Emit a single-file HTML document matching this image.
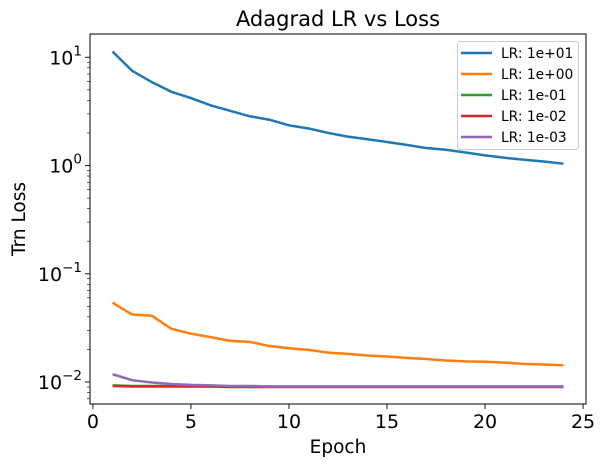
<!DOCTYPE html>
<html><head><meta charset="utf-8"><style>
body{margin:0;background:#fff;}
svg{display:block;font-family:"DejaVu Sans","Liberation Sans",sans-serif;}
</style></head><body>
<svg id="chart" width="605" height="467" viewBox="0 0 605 467"></svg>
<script>
const epochs=[1,2,3,4,5,6,7,8,9,10,11,12,13,14,15,16,17,18,19,20,21,22,23,24];
const lr1e1=[11.3,7.5,5.9,4.8,4.2,3.6,3.2,2.85,2.65,2.35,2.2,2.0,1.85,1.75,1.65,1.55,1.45,1.4,1.32,1.24,1.18,1.13,1.09,1.04];
const lr1e0=[0.054,0.042,0.041,0.031,0.028,0.026,0.024,0.0235,0.0215,0.0205,0.0198,0.0187,0.0182,0.0176,0.0172,0.0167,0.0163,0.0158,0.0155,0.0154,0.0151,0.0147,0.0145,0.0143];
const lr1em1=[0.0093,0.0092,0.0092,0.0092,0.0092,0.0091,0.0091,0.0091,0.0091,0.0091,0.0091,0.0091,0.0091,0.0091,0.0091,0.0091,0.0091,0.0091,0.0091,0.0091,0.0091,0.0091,0.0091,0.0091];
const lr1em2=[0.0092,0.0091,0.0091,0.0091,0.0091,0.0091,0.0090,0.0090,0.0090,0.0090,0.0090,0.0090,0.0090,0.0090,0.0090,0.0090,0.0090,0.0090,0.0090,0.0090,0.0090,0.0090,0.0090,0.0090];
const lr1em3=[0.0118,0.0104,0.0099,0.0096,0.0094,0.0093,0.0092,0.0092,0.0091,0.0091,0.0091,0.0091,0.0091,0.0091,0.0091,0.0091,0.0091,0.0091,0.0091,0.0091,0.0091,0.0091,0.0091,0.0091];
const seriesLabels=["LR: 1e+01","LR: 1e+00","LR: 1e-01","LR: 1e-02","LR: 1e-03"];
const seriesColors=["#1f77b4","#ff7f0e","#2ca02c","#d62728","#9467bd"];
const xTicks=[0,5,10,15,20,25];
const yTicks=[-2,-1,0,1];

const svg=document.getElementById('chart');
const NS='http://www.w3.org/2000/svg';
const L=90,R=586,T=34,B=404;
const x0=-0.15,x1=25.15,ly0=-2.203,ly1=1.215;
const X=v=>L+(v-x0)/(x1-x0)*(R-L);
const Y=v=>B-(Math.log10(v)-ly0)/(ly1-ly0)*(B-T);
function mk(tag,attrs,parent){const e=document.createElementNS(NS,tag);for(const k in attrs)e.setAttribute(k,attrs[k]);(parent||svg).appendChild(e);return e;}

const title=mk('text',{x:338,y:26,'text-anchor':'middle','font-size':21});


title.textContent='Adagrad LR vs Loss';

const xg=mk('g',{});


xTicks.forEach(t=>{
  mk('line',{x1:X(t),x2:X(t),y1:B,y2:B+5,stroke:'#000','stroke-width':0.9},xg);
  const tx=mk('text',{x:X(t),y:B+24,'text-anchor':'middle','font-size':19},xg);
  
  
  tx.textContent=t;
});
const xl=mk('text',{x:338,y:453,'text-anchor':'middle','font-size':18.5});


xl.textContent='Epoch';

const yg=mk('g',{});


yTicks.forEach(t=>{
  const y=Y(Math.pow(10,t));
  mk('line',{x1:L-5,x2:L,y1:y,y2:y,stroke:'#000','stroke-width':0.9},yg);
  const tx=mk('text',{x:L-8,y:y+7,'text-anchor':'end','font-size':19},yg);
  
  
  const b=mk('tspan',{},tx);b.textContent='10';
  const sp=mk('tspan',{dy:-9,'font-size':13.5},tx);sp.textContent=(t<0?'\u2212':'')+Math.abs(t);
});
for(let d=-3;d<=1;d++){for(let m=2;m<=9;m++){const v=m*Math.pow(10,d);const ly=Math.log10(v);if(ly<ly0||ly>ly1)continue;const y=Y(v);mk('line',{x1:L-3,x2:L,y1:y,y2:y,stroke:'#000','stroke-width':0.6},yg);}}
const yl=mk('text',{x:0,y:0,'text-anchor':'middle','font-size':18.5,transform:'translate(25,219) rotate(-90)'});


yl.textContent='Trn Loss';

const data=[lr1e1,lr1e0,lr1em1,lr1em2,lr1em3];
const names=['line-lr-1e+01','line-lr-1e+00','line-lr-1e-01','line-lr-1e-02','line-lr-1e-03'];
data.forEach((s,i)=>{
  const p=mk('polyline',{points:s.map((v,j)=>X(epochs[j])+','+Y(v)).join(' '),fill:'none',stroke:seriesColors[i],'stroke-width':2.5,'stroke-linejoin':'round'});
  
  
});

const frame=mk('rect',{x:L,y:T,width:R-L,height:B-T,fill:'none',stroke:'#000','stroke-width':1});



const lg=mk('g',{});


mk('rect',{x:457.5,y:41.5,width:121,height:108,rx:3,fill:'#fff','fill-opacity':0.8,stroke:'#ccc'},lg);
seriesLabels.forEach((lab,i)=>{
  const y=53+i*21;
  const e=mk('g',{},lg);
  
  
  mk('line',{x1:461,x2:492,y1:y,y2:y,stroke:seriesColors[i],'stroke-width':2.5},e);
  const t=mk('text',{x:501,y:y+5,'font-size':13.8},e);
  t.textContent=lab;
});
</script>
</body></html>
